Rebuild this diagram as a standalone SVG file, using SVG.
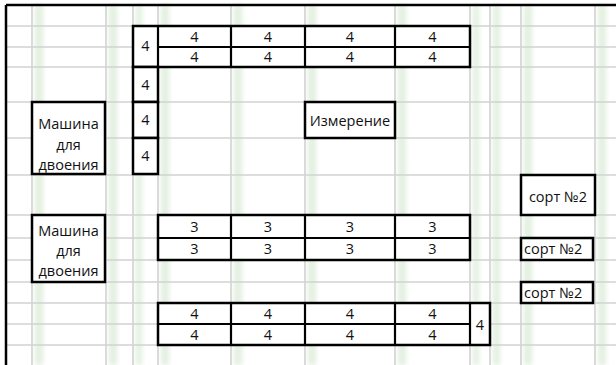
<svg xmlns="http://www.w3.org/2000/svg" width="616" height="365" viewBox="0 0 616 365">
<defs>
<filter id="blur" x="-50%" y="-5%" width="200%" height="110%"><feGaussianBlur stdDeviation="2.5"/></filter>
<style>
.g{stroke:#d2d2d2;stroke-width:1.6;fill:none}
.b{stroke:#000;stroke-width:2.5;fill:#fff}
.l{stroke:#000;stroke-width:2.2;fill:none}
.t{font-family:"Open Sans","Liberation Sans",sans-serif;font-size:14.5px;fill:#111;text-anchor:middle}
.tl{text-anchor:start}
.s{fill:#e2efdf}
</style>
</defs>
<rect width="616" height="365" fill="#fff"/>
<g id="shade" filter="url(#blur)">
<rect class="s" x="35" y="5" width="8" height="360"/>
<rect class="s" x="109" y="5" width="8" height="360"/>
<rect class="s" x="136" y="5" width="6" height="360"/>
<rect class="s" x="161" y="5" width="8" height="360"/>
<rect class="s" x="234" y="5" width="8" height="360"/>
<rect class="s" x="308" y="5" width="8" height="360"/>
<rect class="s" x="398" y="5" width="8" height="360"/>
<rect class="s" x="473" y="5" width="6" height="360"/>
<rect class="s" x="493" y="5" width="7" height="360"/>
<rect class="s" x="524" y="5" width="8" height="360"/>
<rect class="s" x="598" y="5" width="8" height="360"/>
</g>
<g id="grid">
<path class="g" d="M32 5V365M106 5V365M133 5V365M158 5V365M231 5V365M305 5V365M395 5V365M470 5V365M490 5V365M521 5V365M595 5V365"/>
<path class="g" d="M6 26H616M6 47H470M490 47H616M6 67H616M6 102H616M6 138H616M6 175H616M6 215H616M6 238H616M6 260H616M6 282H616M6 303H616M6 324H616M6 345H616"/>
<path d="M6 5H616M6 5V365" stroke="#000" stroke-width="2.5" fill="none"/>
</g>
<g id="connectors"></g>
<g id="table-top">
<rect class="b" x="133" y="26" width="337" height="41"/>
<path class="l" d="M158 26V67M231 26V67M305 26V67M395 26V67M158 47H470"/>
<text class="t" x="145.5" y="51">4</text>
<text class="t" x="194.5" y="41.5">4</text><text class="t" x="268" y="41.5">4</text><text class="t" x="350" y="41.5">4</text><text class="t" x="432.5" y="41.5">4</text>
<text class="t" x="194.5" y="62">4</text><text class="t" x="268" y="62">4</text><text class="t" x="350" y="62">4</text><text class="t" x="432.5" y="62">4</text>
</g>
<g id="column-left">
<rect class="b" x="133" y="67" width="25" height="35"/>
<rect class="b" x="133" y="102" width="25" height="36"/>
<rect class="b" x="133" y="138" width="25" height="36"/>
<text class="t" x="145.5" y="90">4</text>
<text class="t" x="145.5" y="125">4</text>
<text class="t" x="145.5" y="161">4</text>
</g>
<g id="machine-1">
<rect class="b" x="32" y="102" width="73" height="72"/>
<text class="t" x="68.5" y="128.5">Машина</text>
<text class="t" x="68.5" y="149.5">для</text>
<text class="t" x="68.5" y="170">двоения</text>
</g>
<g id="measurement">
<rect class="b" x="305" y="102" width="90" height="36"/>
<text class="t" x="350" y="126">Измерение</text>
</g>
<g id="sort-1">
<rect class="b" x="521" y="175" width="74" height="40"/>
<text class="t" x="558" y="201.5">сорт №2</text>
</g>
<g id="machine-2">
<rect class="b" x="32" y="215" width="73" height="67"/>
<text class="t" x="68.5" y="236">Машина</text>
<text class="t" x="68.5" y="256">для</text>
<text class="t" x="68.5" y="276">двоения</text>
</g>
<g id="table-middle">
<rect class="b" x="158" y="215" width="312" height="45"/>
<path class="l" d="M231 215V260M305 215V260M395 215V260M158 238H470"/>
<text class="t" x="194.5" y="232">3</text><text class="t" x="268" y="232">3</text><text class="t" x="350" y="232">3</text><text class="t" x="432.5" y="232">3</text>
<text class="t" x="194.5" y="254">3</text><text class="t" x="268" y="254">3</text><text class="t" x="350" y="254">3</text><text class="t" x="432.5" y="254">3</text>
</g>
<g id="sort-2">
<rect class="b" x="521" y="238" width="72" height="22"/>
<text class="t tl" x="524" y="254">сорт №2</text>
</g>
<g id="sort-3">
<rect class="b" x="521" y="282" width="72" height="21"/>
<text class="t tl" x="524" y="297.5">сорт №2</text>
</g>
<g id="table-bottom">
<rect class="b" x="158" y="303" width="332" height="42"/>
<path class="l" d="M231 303V345M305 303V345M395 303V345M470 303V345M158 324H470"/>
<text class="t" x="194.5" y="319">4</text><text class="t" x="268" y="319">4</text><text class="t" x="350" y="319">4</text><text class="t" x="432.5" y="319">4</text>
<text class="t" x="194.5" y="339.5">4</text><text class="t" x="268" y="339.5">4</text><text class="t" x="350" y="339.5">4</text><text class="t" x="432.5" y="339.5">4</text>
<text class="t" x="480" y="329.5">4</text>
</g>
</svg>
